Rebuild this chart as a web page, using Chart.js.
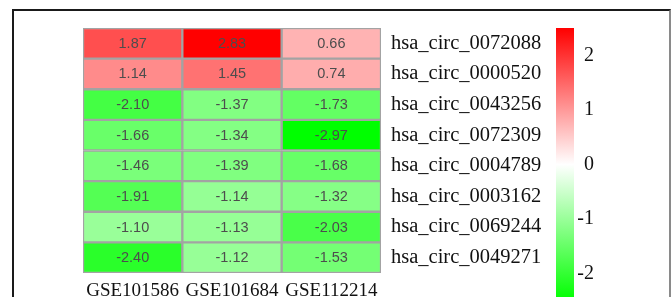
<!DOCTYPE html>
<html><head><meta charset="utf-8">
<script src="https://cdn.jsdelivr.net/npm/chart.js@4/dist/chart.umd.min.js"></script>
<style>
html,body{margin:0;padding:0;background:#fff;overflow:hidden;width:672px;height:297px}
#frame{position:absolute;left:12px;top:9px;width:655px;height:300px;border-left:2px solid #1a1a1a;border-top:2px solid #1a1a1a;border-right:2px solid #8a8a8a}
#heat{position:absolute;left:81px;top:26px}
#bar{position:absolute;left:548px;top:1px}
</style></head><body>
<div id="frame"></div>
<canvas id="heat" width="484" height="275"></canvas>
<canvas id="bar" width="50" height="310"></canvas>
<script>
const columns = ['GSE101586', 'GSE101684', 'GSE112214'];
const circRNAs = ['hsa_circ_0072088', 'hsa_circ_0000520', 'hsa_circ_0043256', 'hsa_circ_0072309',
                  'hsa_circ_0004789', 'hsa_circ_0003162', 'hsa_circ_0069244', 'hsa_circ_0049271'];
const gse101586 = [1.87, 1.14, -2.10, -1.66, -1.46, -1.91, -1.10, -2.40];
const gse101684 = [2.83, 1.45, -1.37, -1.34, -1.39, -1.14, -1.13, -1.12];
const gse112214 = [0.66, 0.74, -1.73, -2.97, -1.68, -1.32, -2.03, -1.53];
const legendTicks = [-2, -1, 0, 1, 2];
const legendRange = [-2.5, 2.5];

const columnValues = [gse101586, gse101684, gse112214];

function cellColor(v) {
  if (v >= 0) {
    const c = Math.max(0, Math.min(255, Math.round(234 - 83 * v)));
    return `rgb(255,${c},${c})`;
  } else {
    const c = Math.max(0, Math.min(255, Math.round(246 + 85 * v)));
    return `rgb(${c},255,${c})`;
  }
}

const cellText = {
  id: 'cellText',
  afterDatasetsDraw(chart) {
    const ctx = chart.ctx;
    ctx.save();
    ctx.font = '14.5px "Liberation Sans", Arial, sans-serif';
    ctx.fillStyle = '#4d4d4d';
    ctx.textAlign = 'center';
    ctx.textBaseline = 'middle';
    chart.data.datasets.forEach((ds, j) => {
      const meta = chart.getDatasetMeta(j);
      meta.data.forEach((el, i) => {
        const p = el.getCenterPoint();
        ctx.fillText(ds.values[i].toFixed(2), p.x, p.y + 0.5);
      });
    });
    ctx.restore();
  }
};

const serif = '"Liberation Serif", "Times New Roman", serif';
function zeroPad(s) { s.paddingTop = 0; s.paddingBottom = 0; s.paddingLeft = 0; s.paddingRight = 0; }

new Chart(document.getElementById('heat'), {
  type: 'bar',
  data: {
    labels: circRNAs,
    datasets: columnValues.map((vals, j) => ({
      label: columns[j],
      values: vals,
      data: vals.map(() => [j, j + 1]),
      backgroundColor: vals.map(cellColor),
      borderColor: '#a3a3a3',
      borderWidth: 1.5,
      borderSkipped: false,
      grouped: false,
      barPercentage: 1,
      categoryPercentage: 1,
      xAxisID: 'x'
    }))
  },
  options: {
    indexAxis: 'y',
    responsive: false,
    animation: false,
    events: [],
    layout: { padding: { left: 2, top: 2, right: 0, bottom: 0 } },
    plugins: { legend: { display: false }, tooltip: { enabled: false } },
    scales: {
      x: { type: 'linear', min: 0, max: 3, display: false },
      x2: {
        type: 'category', labels: columns, offset: true, position: 'bottom',
        grid: { display: false, drawTicks: false }, border: { display: false },
        ticks: { color: '#111', padding: 7, autoSkip: false, maxRotation: 0, minRotation: 0,
                 font: { family: serif, size: 19 } },
        afterFit(s) { s.height = 28; zeroPad(s); }
      },
      y: {
        type: 'category', position: 'right', offset: true,
        grid: { display: false, drawTicks: false }, border: { display: false },
        ticks: { color: '#111', padding: 10, autoSkip: false, font: { family: serif, size: 20.5 } },
        afterFit(s) { s.width = 184; zeroPad(s); }
      }
    }
  },
  plugins: [cellText]
});

new Chart(document.getElementById('bar'), {
  type: 'bar',
  data: {
    labels: ['scale'],
    datasets: [{
      data: [legendRange],
      barPercentage: 1,
      categoryPercentage: 1,
      borderWidth: 0,
      backgroundColor(ctx) {
        const a = ctx.chart.chartArea;
        if (!a) return '#fff';
        const g = ctx.chart.ctx.createLinearGradient(0, a.top, 0, a.bottom);
        g.addColorStop(0, '#ff0000');
        g.addColorStop(0.5, '#ffffff');
        g.addColorStop(1, '#00ff00');
        return g;
      }
    }]
  },
  options: {
    responsive: false,
    animation: false,
    events: [],
    layout: { padding: { left: 8, top: 27, right: 4, bottom: 10 } },
    plugins: { legend: { display: false }, tooltip: { enabled: false } },
    scales: {
      x: { display: false },
      y: {
        position: 'right', min: legendRange[0], max: legendRange[1],
        grid: { display: false, drawTicks: false }, border: { display: false },
        afterBuildTicks(s) { s.ticks = legendTicks.map(v => ({ value: v })); },
        ticks: { color: '#111', padding: 2, crossAlign: 'far', font: { family: serif, size: 20 } },
        afterFit(s) { s.width = 20; zeroPad(s); }
      }
    }
  }
});
</script>
</body></html>
